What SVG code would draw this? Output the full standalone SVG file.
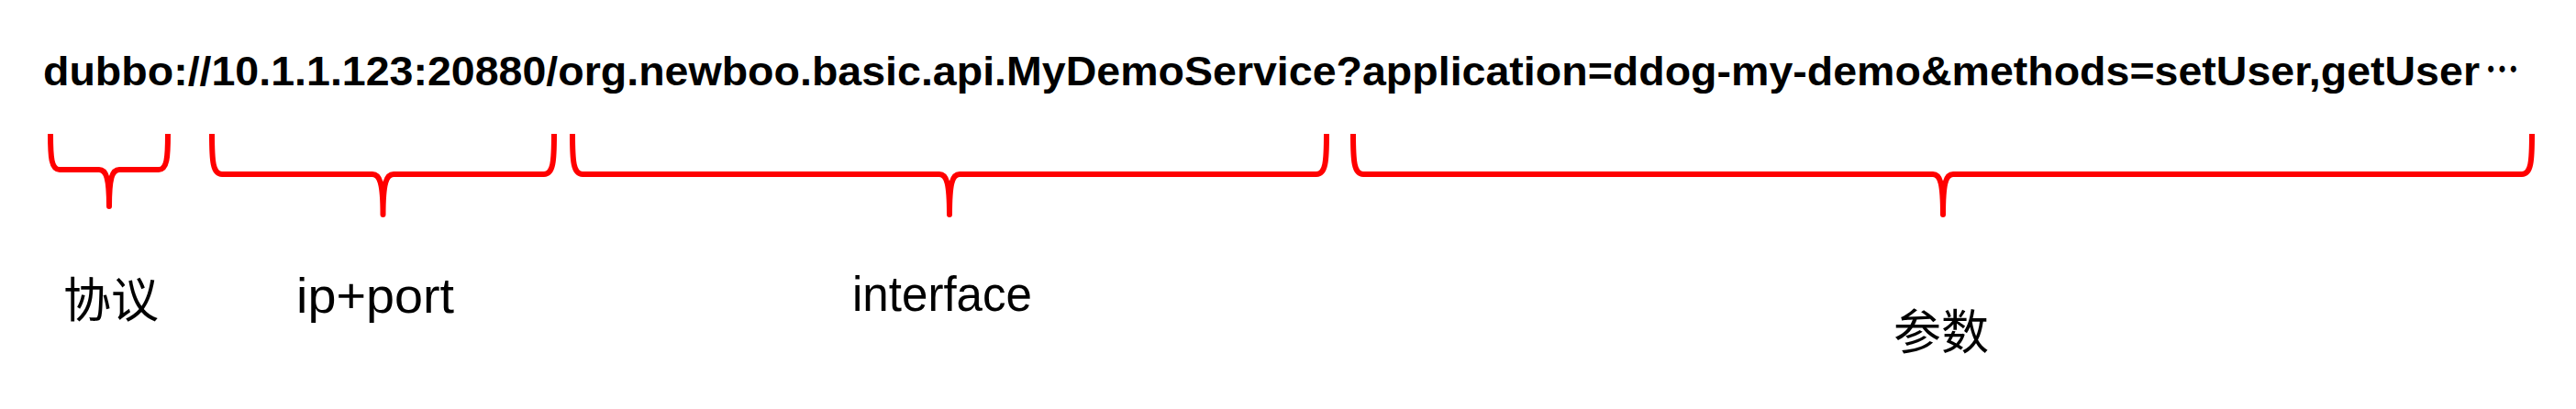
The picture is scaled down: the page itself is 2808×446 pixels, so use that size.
<svg xmlns="http://www.w3.org/2000/svg" width="2808" height="446" viewBox="0 0 2808 446">
<style>
.url{font-family:"Liberation Sans",Arial,sans-serif;font-weight:bold;font-size:45px;fill:#000}
.ell{font-family:"Noto Sans CJK SC","Liberation Sans",sans-serif;font-weight:bold;font-size:45px;fill:#000}
.lbl{font-family:"Liberation Sans","Noto Sans CJK SC",sans-serif;font-size:54px;fill:#000}
.cjk{font-family:"Noto Sans CJK SC",sans-serif;font-size:52px;fill:#000}
.brace{fill:none;stroke:#ff0000;stroke-width:6;stroke-linecap:butt;stroke-linejoin:round}
</style>
<rect width="2808" height="446" fill="#fff"/>
<g id="url">
<text class="url" x="47" y="92.7" textLength="2656" lengthAdjust="spacingAndGlyphs">dubbo://10.1.1.123:20880/org.newboo.basic.api.MyDemoService?application=ddog-my-demo&amp;methods=setUser,getUser</text>
<text class="ell" x="2709" y="92.7" textLength="37" lengthAdjust="spacingAndGlyphs">…</text>
</g>
<g id="connectors">
<path class="brace" d="M55,146 C55,172 56,185 65,185 L108,185 C116,185 119,195 119,225 C119,195 122,185 130,185 L173,185 C182,185 183,172 183,146"/>
<path class="brace" d="M231,146 C231,176 232,190 242,190 L406,190 C414,190 417.5,200 417.5,234 C417.5,200 421,190 429,190 L593,190 C603,190 604,176 604,146"/>
<path class="brace" d="M624,146 C624,176 625,190 635,190 L1024,190 C1032,190 1035,200 1035,234 C1035,200 1038,190 1046,190 L1435,190 C1445,190 1446,176 1446,146"/>
<path class="brace" d="M1475,146 C1475,176 1476,190 1486,190 L2107,190 C2115,190 2118,200 2118,234 C2118,200 2121,190 2129,190 L2749,190 C2759,190 2760,176 2760,146"/>
</g>
<g id="label-protocol"><text class="cjk" x="69" y="346">协议</text></g>
<g id="label-ipport"><text class="lbl" x="323" y="341" textLength="172" lengthAdjust="spacingAndGlyphs">ip+port</text></g>
<g id="label-interface"><text class="lbl" x="929" y="339" textLength="196" lengthAdjust="spacingAndGlyphs">interface</text></g>
<g id="label-params"><text class="cjk" x="2064" y="381">参数</text></g>
</svg>
